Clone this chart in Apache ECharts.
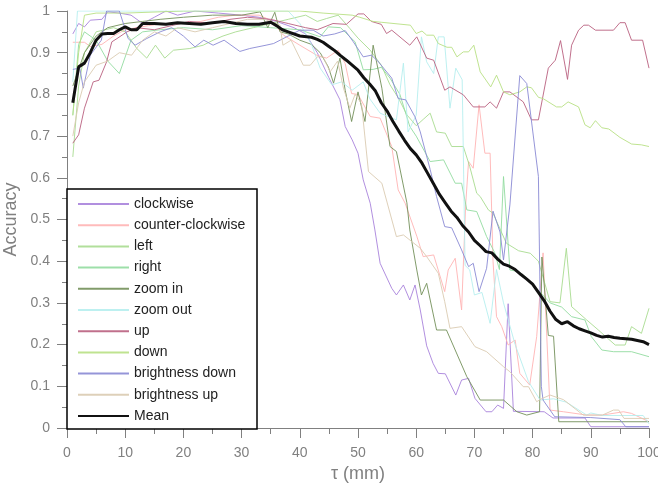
<!DOCTYPE html>
<html>
<head>
<meta charset="utf-8">
<script src="https://cdn.jsdelivr.net/npm/echarts@6/dist/echarts.min.js"></script>
<style>
html, body { margin: 0; padding: 0; background: #fff; }
#main { width: 658px; height: 487px; }
</style>
</head>
<body>
<div id="main"></div>
<script>
// accuracy vs tau, one [tau, acc] list per gesture
var clockwise = [[1,0.945],[2,0.97],[3,0.962],[4,0.978],[6,0.98],[7,0.998],[9,0.995],[11,0.99],[13,0.97],[15,0.985],[17,1.0],[19,0.99],[22,1.0],[26,0.995],[30,0.99],[33,0.985],[36,0.975],[39,0.96],[41,0.945],[43,0.9],[45,0.84],[46.9,0.787],[47.8,0.723],[49,0.691],[50,0.659],[50.9,0.595],[52.1,0.539],[52.9,0.475],[53.8,0.395],[55.8,0.335],[56.6,0.319],[57.8,0.343],[58.9,0.307],[59.8,0.343],[60.7,0.283],[61.8,0.197],[62.9,0.155],[63.8,0.131],[65,0.13],[66.8,0.079],[67.8,0.115],[69,0.119],[70.1,0.071],[72,0.039],[73,0.039],[74,0.055],[75,0.047],[75.8,0.298],[76.7,0.04],[82,0.039],[83.5,0.024],[89,0.024],[90,0.003],[100,0.003]];
var counterClockwise = [[1,0.925],[3,0.925],[4,0.915],[6,0.92],[8,0.94],[10,0.955],[12,0.96],[14,0.965],[17,0.97],[20,0.97],[23,0.975],[26,0.985],[29,0.99],[33,0.99],[35,0.978],[37.2,0.942],[40,0.918],[42.9,0.894],[44.6,0.887],[46.6,0.906],[47.8,0.874],[48.9,0.802],[50,0.8],[52.1,0.747],[53.8,0.743],[55.8,0.675],[56.9,0.571],[58.1,0.539],[60.1,0.46],[61.2,0.411],[63,0.415],[64.9,0.327],[65.5,0.379],[66.7,0.407],[67.8,0.283],[68.5,0.535],[69,0.639],[69.8,0.623],[70.8,0.775],[71.8,0.659],[72.7,0.659],[73.2,0.4],[73.8,0.267],[74.7,0.243],[75.8,0.199],[77,0.211],[77.8,0.131],[79.5,0.103],[80.7,0.219],[81.8,0.42],[83,0.043],[85.3,0.039],[89.3,0.031],[92,0.031],[95.6,0.039],[97,0.035],[100,0.015]];
var left = [[1,0.65],[2,0.82],[3,0.9],[5,0.95],[8,0.96],[10,0.95],[12,0.91],[13.7,0.887],[15.2,0.918],[16.8,0.887],[18.3,0.906],[21.1,0.91],[23.4,0.918],[25.1,0.93],[26.8,0.94],[29,0.95],[32,0.96],[35,0.97],[38,0.98],[41,0.99],[43,0.975],[44.6,0.982],[46.6,0.99],[48.6,0.958],[50,0.935],[52.1,0.906],[54,0.87],[55.5,0.823],[57,0.79],[58.4,0.751],[60,0.725],[61.2,0.74],[62.4,0.755],[63.5,0.71],[65,0.707],[66.1,0.675],[68.1,0.675],[69.2,0.627],[70.4,0.563],[71,0.555],[72.4,0.523],[73.2,0.515],[75.5,0.443],[77.6,0.425],[79.6,0.419],[81,0.4],[83,0.303],[84.7,0.3],[85.8,0.431],[86.7,0.291],[89.3,0.259],[91.3,0.235],[92.5,0.22],[94.2,0.199],[95.9,0.199],[97,0.243],[98.7,0.227],[100,0.287]];
var right = [[1,0.75],[2,0.92],[3,0.95],[5,0.93],[7,0.88],[9,0.85],[11,0.93],[13,0.95],[16,0.955],[20,0.96],[25,0.955],[30,0.965],[35,0.96],[40,0.955],[43.5,0.938],[44.9,0.962],[47,0.96],[49.5,0.926],[50.9,0.859],[52.6,0.86],[54,0.865],[55.5,0.839],[57.2,0.8],[58.9,0.723],[60,0.7],[62.4,0.639],[64.7,0.643],[66.7,0.587],[67.8,0.587],[68.7,0.523],[70.4,0.519],[72.1,0.459],[73.5,0.42],[74.3,0.38],[75,0.603],[76.1,0.379],[77.6,0.375],[79,0.36],[81,0.33],[83,0.3],[85,0.29],[86.7,0.267],[89,0.259],[90.1,0.219],[91.9,0.187],[93.9,0.183],[97,0.183],[100,0.171]];
var zoomIn = [[1,0.82],[2,0.86],[3,0.9],[5,0.94],[7,0.96],[10,0.97],[13,0.975],[16,0.98],[20,0.985],[25,0.99],[30,0.99],[33.2,0.998],[34.5,0.96],[35.7,0.997],[36.6,0.95],[38,0.945],[40,0.93],[42,0.92],[43.5,0.9],[44.9,0.866],[45.8,0.827],[46.9,0.887],[47.8,0.81],[48.9,0.735],[50,0.806],[51.2,0.735],[52.6,0.918],[54.1,0.815],[55.5,0.675],[56.6,0.663],[58.4,0.54],[58.9,0.475],[60.1,0.379],[60.9,0.319],[61.8,0.347],[63.5,0.235],[65.2,0.235],[68.7,0.123],[71,0.067],[75,0.067],[77.3,0.039],[79,0.031],[81.2,0.039],[81.6,0.41],[82.7,0.222],[83.6,0.22],[84.5,0.015],[100,0.015]];
var zoomOut = [[1,0.83],[1.8,1.0],[30,1.0],[38,1.0],[40,0.97],[42,0.92],[43.5,0.863],[45.5,0.823],[47.2,0.83],[49,0.81],[50.9,0.83],[52,0.79],[53.8,0.755],[56.6,0.739],[57.8,0.875],[58.6,0.71],[60,0.75],[60.9,0.938],[61.8,0.878],[63,0.85],[63.8,0.938],[64.8,0.938],[65.8,0.767],[66.8,0.863],[67.9,0.835],[68.4,0.39],[69.2,0.379],[70,0.319],[71.3,0.325],[72.7,0.251],[73.8,0.38],[75,0.3],[77,0.2],[79.3,0.111],[81.3,0.067],[83.6,0.07],[85.8,0.062],[89.3,0.031],[90,0.036],[92,0.03],[99,0.03],[100,0.01]];
var up = [[1,0.683],[2,0.703],[3,0.767],[4.5,0.83],[5.5,0.834],[6.8,0.878],[7.7,0.926],[8.6,0.934],[10.3,0.95],[12,0.96],[15,0.955],[18,0.965],[21,0.975],[25,0.97],[28,0.98],[31,0.985],[35,0.98],[38,0.97],[41,0.96],[43,0.955],[45.7,0.97],[48,0.968],[50,0.993],[51,0.993],[52.3,0.975],[54,0.968],[54.9,0.946],[55.8,0.954],[58.9,0.918],[60.1,0.938],[61.8,0.887],[63,0.882],[64.9,0.81],[65.8,0.818],[68.1,0.799],[69.8,0.77],[71.8,0.77],[72.7,0.782],[73.8,0.767],[75,0.806],[76.1,0.806],[78.4,0.782],[79.8,0.739],[81,0.739],[82.7,0.863],[83.9,0.882],[84.8,0.929],[86,0.836],[86.7,0.918],[87.9,0.954],[88.8,0.966],[89.6,0.966],[90.8,0.954],[93.9,0.954],[95,0.972],[95.9,0.972],[97,0.93],[98.9,0.93],[100,0.863]];
var down = [[1,0.75],[2,0.9],[3,0.99],[5,0.995],[10,0.995],[20,1.0],[30,1.0],[40,1.0],[44,0.995],[49,0.99],[50.3,0.985],[52.6,0.975],[54,0.973],[59,0.966],[60,0.946],[61,0.952],[61.8,0.942],[63,0.942],[63.8,0.922],[65.3,0.913],[66.1,0.913],[67,0.89],[68.1,0.902],[69,0.902],[69.9,0.918],[71,0.854],[72.8,0.818],[73.8,0.846],[75,0.806],[76.1,0.799],[77.8,0.806],[79,0.818],[79.8,0.816],[81,0.793],[81.8,0.79],[84.1,0.77],[85,0.77],[86.1,0.782],[87.9,0.77],[89,0.727],[89.9,0.72],[90.8,0.737],[91.9,0.72],[93.1,0.717],[95,0.697],[97,0.681],[98.7,0.679],[100,0.675]];
var brightnessDown = [[1,0.86],[2.2,0.863],[2.8,0.815],[4,0.894],[5.9,0.93],[6.8,1.0],[9,1.0],[10.5,0.934],[11.7,0.918],[13.7,0.934],[16,0.95],[18,0.96],[20,0.94],[22,0.914],[23.5,0.93],[25.1,0.918],[27,0.93],[29.7,0.903],[31.4,0.91],[34.2,0.918],[35.5,0.922],[38,0.94],[40,0.954],[42.3,0.954],[44,0.94],[46,0.945],[47.8,0.953],[49.2,0.926],[50.9,0.89],[52.3,0.894],[53.4,0.88],[55.8,0.839],[56.9,0.79],[58.2,0.787],[59.8,0.746],[60.7,0.71],[62.4,0.62],[63.5,0.555],[64.9,0.483],[66.1,0.48],[67.8,0.427],[69,0.387],[69.8,0.395],[70.8,0.327],[72.1,0.383],[73.2,0.52],[74.4,0.47],[75,0.403],[76.1,0.535],[77.8,0.845],[79,0.826],[81,0.603],[81.5,0.1],[81.8,0.067],[83.8,0.027],[90,0.025],[95,0.02],[96,0.003],[100,0.003]];
var brightnessUp = [[1,0.7],[2,0.78],[3,0.83],[5,0.87],[7,0.88],[9,0.9],[11.1,0.894],[13,0.93],[15,0.95],[17,0.94],[19,0.96],[22,0.95],[25,0.96],[28,0.97],[31,0.98],[34,0.98],[36.6,0.966],[37.1,0.918],[38.5,0.93],[40.6,0.87],[41.8,0.87],[43,0.89],[44,0.89],[45.2,0.854],[46.5,0.88],[47.5,0.815],[48.6,0.767],[49.5,0.8],[50.6,0.778],[51.8,0.615],[54.1,0.587],[56.6,0.459],[57.8,0.463],[60.7,0.431],[61.8,0.411],[63.8,0.371],[64.9,0.303],[65.8,0.239],[67.8,0.243],[70.1,0.195],[72.1,0.183],[75,0.147],[76.1,0.135],[78.4,0.099],[79.3,0.099],[80.7,0.063],[81.5,0.07],[83,0.079],[85.3,0.068],[88.7,0.031],[92,0.031],[93.9,0.043],[94.8,0.043],[95.7,0.023],[100,0.023]];
var mean = [[1,0.78],[2,0.866],[3,0.875],[4,0.9],[5,0.93],[6,0.945],[7,0.946],[8,0.946],[9,0.955],[10,0.962],[11,0.955],[12,0.955],[13,0.97],[15,0.97],[17,0.968],[19,0.972],[21,0.97],[23,0.968],[25,0.972],[27,0.975],[29,0.97],[31,0.968],[33,0.968],[35,0.973],[36,0.965],[37,0.955],[38,0.95],[40,0.94],[42,0.937],[43,0.932],[44,0.925],[45,0.915],[46,0.905],[47,0.893],[48,0.882],[49,0.87],[50,0.858],[51,0.84],[52,0.825],[53,0.808],[54,0.78],[55,0.76],[56,0.735],[57,0.712],[58,0.69],[59,0.67],[60,0.655],[61,0.635],[62,0.61],[63,0.585],[64,0.56],[65,0.54],[66,0.52],[67,0.505],[68,0.485],[69,0.47],[70,0.45],[71,0.437],[72,0.423],[73,0.42],[74,0.405],[75,0.393],[76,0.388],[77,0.38],[78,0.368],[79,0.357],[80,0.345],[81,0.325],[82,0.305],[83,0.28],[84,0.26],[85,0.25],[86,0.255],[87,0.245],[88,0.238],[89,0.233],[90,0.228],[91,0.222],[92,0.218],[93,0.22],[94,0.217],[95,0.215],[96,0.214],[97,0.213],[98,0.21],[99,0.207],[100,0.2]];

var names = ['clockwise', 'counter-clockwise', 'left', 'right', 'zoom in', 'zoom out', 'up', 'down', 'brightness down', 'brightness up', 'Mean'];
var colors = ['#a883dc', '#ffb4b4', '#a8dc90', '#92dca0', '#73905a', '#b6eeee', '#b9607f', '#b8e084', '#8a8ad4', '#dacbb1', '#111111'];
var lists = [clockwise, counterClockwise, left, right, zoomIn, zoomOut, up, down, brightnessDown, brightnessUp, mean];

var font = 'Liberation Sans';
var grey = '#808080';

var myChart = echarts.init(document.getElementById('main'));

var series = lists.map(function (d, i) {
    var isMean = names[i] === 'Mean';
    return {
        name: names[i],
        type: 'line',
        data: d,
        symbol: 'none',
        z: isMean ? 5 : 2,
        lineStyle: { color: colors[i], width: isMean ? 3 : 1, opacity: isMean ? 1 : 0.9 },
        itemStyle: { color: colors[i] },
        emphasis: { disabled: true }
    };
});

var option = {
    animation: false,
    grid: { left: 67, right: 9, top: 11, bottom: 59, containLabel: false, outerBoundsMode: 'none' },
    xAxis: {
        type: 'value', min: 0, max: 100, interval: 10,
        name: 'τ (mm)', nameLocation: 'middle', nameGap: 33,
        nameTextStyle: { color: grey, fontSize: 18, fontFamily: font },
        axisLine: { lineStyle: { color: grey, width: 1 } },
        axisTick: { length: 10, lineStyle: { color: grey } },
        minorTick: { show: true, splitNumber: 2, length: 6, lineStyle: { color: grey } },
        axisLabel: { color: grey, fontSize: 14, fontFamily: font, margin: 18 },
        splitLine: { show: false }
    },
    yAxis: {
        type: 'value', min: 0, max: 1, interval: 0.1,
        name: 'Accuracy', nameLocation: 'middle', nameGap: 47,
        nameTextStyle: { color: grey, fontSize: 18, fontFamily: font },
        axisLine: { show: true, lineStyle: { color: grey, width: 1 } },
        axisTick: { show: true, length: 10, lineStyle: { color: grey } },
        minorTick: { show: true, splitNumber: 2, length: 5, lineStyle: { color: grey } },
        axisLabel: {
            color: grey, fontSize: 14, fontFamily: font, margin: 17,
            formatter: function (v) { return (v === 0 || v === 1) ? String(v) : v.toFixed(1); }
        },
        splitLine: { show: false }
    },
    legend: {
        data: names,
        orient: 'vertical',
        left: 77, top: 197,
        padding: 0,
        itemWidth: 51, itemHeight: 14, itemGap: 7.2,
        itemStyle: { opacity: 0 },
        textStyle: { color: '#222', fontSize: 14, fontFamily: font },
        z: 20
    },
    graphic: [{
        type: 'rect', z: 10,
        shape: { x: 67, y: 189, width: 190, height: 240 },
        style: { fill: '#fff', stroke: '#000', lineWidth: 1.5 }
    }],
    series: series
};

myChart.setOption(option);
</script>
</body>
</html>
